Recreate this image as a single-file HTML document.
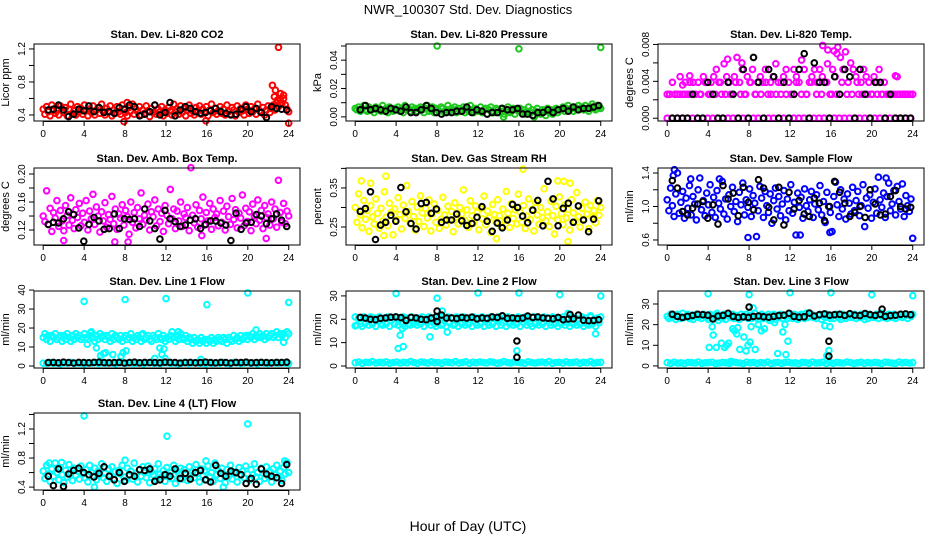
<!DOCTYPE html>
<html><head><meta charset="utf-8"><style>
html,body{margin:0;padding:0;background:#fff;}
svg{display:block;font-family:"Liberation Sans",sans-serif;}
</style></head><body>
<svg id="chart" width="936" height="540" viewBox="0 0 936 540" xmlns="http://www.w3.org/2000/svg">
<text x="468" y="14" font-size="13" text-anchor="middle">NWR_100307  Std. Dev. Diagnostics</text>
<text x="468" y="531" font-size="14" text-anchor="middle">Hour of Day (UTC)</text>
</svg>
<script>
// ---------- data ----------
const xTicks=[0,4,8,12,16,20,24];
const co2Main=[.47,.41,.50,.44,.39,.52,.45,.42,.48,.40,.51,.46,.43,.49,.39,.47,.53,.42,.45,.40,.50,.44,.48,.41,.52,.45,.39,.47,.43,.51,.40,.46,.49,.42,.53,.44,.40,.48,.45,.51,.39,.46,.42,.50,.44,.41,.52,.47,.43,.39,.49,.45,.53,.41,.47,.44,.50,.40,.46,.42,.51,.45,.38,.48,.43,.52,.41,.47,.44,.50,.39,.46,.42,.49,.45,.40,.53,.44,.47,.41,.51,.43,.48,.39,.46,.52,.42,.45,.40,.49,.44,.51,.41,.47,.43,.50,.39,.46,.53,.43,.48,.41,.45,.50,.42,.47,.40,.52,.44,.41,.49,.46,.39,.51,.43,.48,.45,.40,.52,.47,.42,.50,.44,.47,.41,.53,.45,.43,.49,.40,.46,.51,.43,.48,.52,.46,.55,.50,.58,.54,.60,.52,.47,.44];
const co2Extra=[[7.9,.32],[8.2,.55],[15.9,.33],[22.4,.76],[22.7,.70],[23.0,1.22],[23.2,.66],[23.5,.64],[24,.30],[22.6,.62],[22.9,.58]];
const co2Black=[.46,.47,.52,.46,.38,.41,.47,.45,.51,.44,.49,.43,.44,.42,.49,.47,.52,.50,.39,.41,.44,.52,.40,.43,.55,.39,.46,.50,.48,.44,.42,.43,.45,.48,.44,.42,.40,.41,.47,.50,.44,.48,.43,.37,.50,.48,.47,.46];
const co2Ticks=[.4,.6,.8,1.0,1.2]; const co2Labels=["0.4","","0.8","","1.2"];

const presMain=[6,5,7,4,6,8,5,4,7,6,5,3,7,5,6,4,8,5,6,3,7,5,4,6,5,7,4,6,3,8,5,6,4,7,5,6,4,6,7,5,3,6,8,4,5,7,3,6,5,4,7,6,3,5,8,4,6,5,7,3,6,4,5,7,3,6,4,8,5,3,6,5,4,7,3,5,6,2,5,7,4,3,6,5,3,6,4,2,5,7,3,4,6,2,5,4,6,3,5,2,4,7,3,5,1,4,6,3,2,5,4,1,6,3,5,2,4,6,3,5,5,7,4,6,8,5,6,4,7,5,8,6,7,5,8,6,4,7,9,6,5,8,7,6];
const presExtra=[[8,50],[16,48],[24,49],[14.5,0],[17.5,0]];
const presBlack=[5,8,5,6,5,4,6,5,4,7,3,3,5,8,6,3,2,3,3,4,4,7,3,5,4,2,3,3,6,5,5,6,2,2,1,3,3,5,3,5,6,4,7,5,6,6,7,8];
const presTicks=[0,10,20,30,40,50]; const presLabels=["0.00","","0.02","","0.04",""];

const tempMid=[2.6,2.6,3.9,2.6,2.6,4.5,2.6,3.9,2.6,2.6,3.9,2.6,3.9,2.6,4.5,3.9,2.6,3.9,4.5,5.3,3.9,2.6,5.9,4.5,3.9,2.6,4.5,6.6,3.9,5.3,2.6,4.5,3.9,5.3,2.6,3.9,4.5,3.9,5.3,2.6,3.9,4.5,5.9,3.9,2.6,4.5,5.3,3.9,2.6,5.3,4.5,3.9,6.3,5.3,2.6,3.9,4.5,5.3,3.9,5.3,4.5,3.9,5.9,2.6,5.3,4.5,7.7,6.6,5.3,7.2,3.9,6.0,5.3,4.5,2.6,3.9,5.3,4.5,3.9,2.6,4.5,3.9,5.3,2.6,3.9,2.6,2.6,2.6,2.6,4.5,2.6,2.6,2.6,2.6,2.6,2.6];
const tempLow=[0,2.6,0,2.6,0,2.6,0,2.6,0,3.9,0,2.6,0,2.6,0,3.9,0,2.6,0,2.6,0,3.9,0,2.6,0,2.6,0,3.9,0,2.6,0,2.6,0,3.9,0,2.6,0,2.6,0,3.9,0,2.6,0,2.6,0,3.9,0,2.6,0,2.6,0,3.9,0,2.6,0,2.6,0,3.9,0,2.6,0,2.6,0,3.9,0,2.6,0,2.6,0,3.9,0,2.6,0,2.6,0,3.9,0,2.6,0,2.6,0,2.6,0,2.6,0,2.6,0,2.6,0,2.6,0,2.6,0,2.6,0,2.6,0,2.6];
const tempExtra=[[15.2,7.9],[15.7,7.4],[16.3,7.3],[16.6,7.0],[5.9,6.4],[7.3,6.0],[2.2,4.6],[22.3,4.6],[1.5,3.6],[23.3,2.6]];
const tempBlack=[0,0,0,0,2.6,0,0,3.9,2.6,0,0,3.9,2.6,0,5.3,0,6.6,3.9,0,5.3,4.5,0,3.9,0,2.6,5.3,7.0,0,6.0,3.9,3.9,0,4.5,2.6,5.3,4.5,0,5.3,2.6,0,3.9,3.9,0,2.6,0,0,0,0];
const tempTicks=[0,2,4,6,8]; const tempLabels=["0.000","","0.004","","0.008"];

const ambMain=[.140,.132,.176,.128,.151,.118,.145,.137,.162,.125,.148,.133,.119,.155,.141,.127,.166,.134,.122,.149,.138,.158,.126,.144,.131,.162,.120,.147,.136,.171,.128,.153,.140,.117,.146,.133,.159,.124,.142,.135,.168,.129,.150,.121,.143,.137,.156,.127,.148,.139,.114,.160,.131,.145,.123,.152,.136,.173,.128,.141,.134,.157,.120,.146,.139,.163,.126,.150,.132,.144,.118,.155,.141,.129,.178,.136,.150,.122,.147,.133,.160,.125,.143,.138,.152,.119,.209,.141,.130,.156,.124,.148,.136,.167,.127,.145,.133,.158,.121,.150,.138,.143,.126,.162,.131,.147,.120,.154,.139,.128,.165,.135,.149,.123,.144,.137,.170,.126,.151,.132,.146,.119,.157,.140,.129,.163,.134,.148,.122,.155,.138,.143,.127,.160,.136,.150,.124,.191,.145,.131,.158,.129,.147,.140];
const ambExtra=[[2.0,.105],[7.0,.103],[8.3,.103],[15.5,.112],[21.8,.108]];
const ambBlack=[.128,.131,.130,.136,.146,.142,.123,.104,.128,.138,.133,.121,.122,.143,.122,.136,.135,.136,.125,.150,.133,.122,.107,.148,.136,.132,.125,.127,.134,.136,.122,.128,.133,.133,.130,.127,.105,.144,.121,.130,.131,.142,.140,.129,.136,.143,.134,.125];
const ambTicks=[.12,.14,.16,.18,.20]; const ambLabels=["0.12","","0.16","","0.20"];

const rhMain=[.300,.262,.335,.281,.248,.318,.270,.292,.239,.305,.276,.258,.322,.285,.247,.298,.266,.340,.275,.253,.311,.288,.230,.296,.268,.325,.282,.245,.306,.272,.356,.290,.259,.315,.277,.242,.301,.264,.330,.286,.251,.297,.273,.319,.240,.284,.309,.262,.293,.247,.270,.326,.281,.255,.303,.268,.290,.238,.312,.276,.258,.300,.283,.345,.266,.294,.249,.317,.279,.260,.304,.287,.243,.298,.271,.329,.256,.291,.274,.236,.308,.282,.263,.320,.279,.252,.296,.267,.341,.285,.249,.310,.272,.294,.258,.334,.288,.262,.305,.246,.278,.322,.269,.295,.240,.313,.281,.257,.300,.274,.348,.266,.289,.251,.316,.279,.232,.303,.268,.327,.284,.256,.307,.273,.295,.242,.320,.286,.264,.338,.277,.250,.298,.270,.314,.283,.246,.305,.275,.292,.261,.318,.280,.300];
const rhExtra=[[0.6,.368],[1.5,.362],[3.0,.380],[16.4,.398],[19.8,.368],[20.4,.367],[21.0,.362],[2.8,.228],[13.8,.220],[20.8,.213]];
const rhBlack=[.290,.297,.340,.218,.255,.262,.280,.265,.351,.289,.259,.245,.310,.313,.285,.296,.262,.268,.268,.283,.266,.254,.259,.275,.302,.265,.239,.260,.248,.268,.308,.300,.278,.261,.293,.318,.253,.367,.322,.253,.298,.311,.262,.304,.268,.238,.270,.317];
const rhTicks=[.25,.30,.35,.40]; const rhLabels=["0.25","","0.35",""];

const flowMain=[1.08,0.95,1.22,1.01,0.88,1.15,1.40,0.92,1.05,1.18,0.86,1.10,0.98,1.25,0.90,1.12,1.03,0.84,1.20,1.34,0.96,1.07,0.89,1.16,1.02,1.26,0.93,1.11,0.87,1.19,1.04,0.97,1.30,0.91,1.09,0.85,1.14,1.00,1.23,0.94,1.06,0.82,1.17,1.02,1.28,0.90,1.08,0.99,1.21,0.88,1.13,1.04,0.64,0.95,1.24,1.10,0.87,1.18,1.01,0.93,1.15,0.80,1.07,1.22,0.97,1.12,0.89,1.03,1.19,0.84,1.09,0.95,1.26,0.92,1.05,0.66,1.16,0.99,1.11,0.86,1.21,1.01,0.94,1.08,1.18,0.87,1.03,1.14,0.96,1.25,0.90,1.06,0.81,1.17,1.00,0.93,0.70,1.12,1.29,1.02,0.88,1.20,0.97,1.09,0.85,1.15,1.04,0.91,1.23,0.95,1.07,1.18,0.89,1.01,1.26,0.76,1.10,0.98,1.14,0.86,1.05,1.21,0.92,1.35,1.08,0.99,1.16,0.87,1.12,1.28,0.95,1.03,1.19,0.90,1.24,1.06,0.97,1.27,0.88,1.13,1.01,0.94,1.09,0.62];
const flowExtra=[[0.7,1.44],[0.6,1.37],[2.3,1.33],[5.1,1.33],[7.9,0.63],[13.0,0.66],[15.9,0.69],[21.4,1.34]];
const flowBlack=[1.31,1.22,0.94,0.90,0.98,1.03,1.06,0.86,1.02,0.79,1.25,1.09,1.16,0.89,1.23,1.05,0.96,1.32,1.22,0.99,0.84,1.23,0.78,1.17,0.97,1.07,0.91,0.88,1.10,1.04,0.83,1.00,1.30,1.17,1.04,0.88,0.93,1.00,0.87,1.20,1.03,0.90,0.91,1.12,1.19,1.00,0.97,0.99];
const flowTicks=[.6,.8,1.0,1.2,1.4]; const flowLabels=["0.6","","1.0","","1.4"];

const line1Main=[15,17,14,16,13,16,15,17,14,15,16,13,16,14,17,15,13,16,14,17,15,16,14,15,17,15,14,16,18,15,13,16,14,17,15,16,14,16,15,13,17,14,16,15,14,16,13,15,16,14,15,17,13,15,14,16,15,13,17,14,15,16,14,13,16,15,14,17,15,14,16,13,15,14,16,18,15,13,16,14,17,15,14,16,13,15,14,12,15,13,14,12,15,13,14,12,14,13,15,12,14,13,15,14,13,15,14,12,15,14,13,16,14,15,13,16,14,15,16,14,16,15,17,14,16,15,17,15,16,14,17,15,16,17,15,16,18,15,17,16,17,15,18,17];
const line1Low=[1.5,1.3,1.8,1.4,1.6,1.2,1.7,1.5,1.9,1.3,1.6,1.4,1.2,1.7,1.5,1.8,1.3,1.6,1.4,1.9,1.5,1.2,1.7,1.6,1.4,1.8,1.3,1.5,1.7,1.2,1.6,1.9,1.4,1.5,1.3,1.8,1.6,1.4,1.7,1.2,1.5,1.9,1.3,1.6,1.8,1.4,1.5,1.2,1.7,1.3,1.6,1.5,1.9,1.4,1.2,1.8,1.6,1.3,1.5,1.7,1.4,1.6,1.2,1.8,1.5,1.3,1.7,1.6,1.4,1.9,1.5,1.3];
const line1Extra=[[4,34],[8,35],[12,35.5],[16,32.3],[20,38.5],[24,33.5],[4.3,11.5],[5.2,9.5],[5.6,5.5],[5.9,6.5],[6.1,7],[6.8,6],[7.6,5],[7.8,7],[8.1,8],[10.9,4],[11.4,9.5],[11.6,6],[11.8,9],[11.9,4],[4.6,17.5],[15.4,3.5],[23.5,12.5],[20.8,19],[13.2,18],[9.6,16.5]];
const line1Black=[1.8,1.9,1.7,2.0,1.8,1.6,1.9,1.8,1.7,1.9,2.0,1.8,1.7,1.8,1.9,1.6,1.8,2.0,1.7,1.9,1.8,1.8,1.7,2.0,1.9,1.8,1.6,1.8,1.9,1.7,1.8,2.0,1.8,1.7,1.9,1.8,1.6,1.9,1.8,2.0,1.7,1.8,1.9,1.8,1.7,1.9,1.8,2.0];
const line1Ticks=[0,10,20,30,40]; const line1Labels=["0","10","20","30","40"];

const line2Main=[21,17.5,20.5,18,17,21,18.5,20,17.5,21,18,20.5,17,20,21,18,17.5,20.5,18,21,17,19.5,20.5,18,21,17.5,20,18.5,21,17,20.5,18,17.5,21,18,20,17.5,20.5,18,21,17,20,18.5,21,17.5,20.5,18,17,20.5,21,17.5,18,20,17,21,18.5,20.5,17.5,18,21,17,20.5,18,21,17.5,20,18,20.5,17,21,18.5,17.5,20.5,18,21,17,20,18.5,17.5,21,18,20.5,17,20,21,17.5,18.5,20.5,17,21,18,20,17.5,20.5,18,21,17,20,18.5,21,17.5,20.5,18,17,21,18,20.5,17.5,20,18,21,17,20.5,18.5,17.5,21,18,20,17,20.5,18,21,17.5,20,18.5,17,21,18,20.5,17.5,20,18,21,17,20.5,18,17.5,21,18,20,17,20.5,18.5,21];
const line2Low=[1.4,1.7,1.2,1.6,1.5,1.9,1.3,1.6,1.4,1.8,1.2,1.5,1.7,1.3,1.6,1.4,1.9,1.5,1.2,1.7,1.6,1.3,1.8,1.4,1.5,1.2,1.7,1.6,1.4,1.9,1.3,1.5,1.8,1.2,1.6,1.4,1.7,1.5,1.3,1.8,1.6,1.2,1.4,1.9,1.5,1.3,1.7,1.6,1.4,1.2,1.8,1.5,1.3,1.6,1.7,1.4,1.9,1.2,1.5,1.6,1.3,1.8,1.4,1.5,1.7,1.2,1.6,1.4,1.9,1.3,1.5,1.6];
const line2Extra=[[4,31],[12,31.3],[16,31.3],[20,30.5],[24,30],[8,29],[4.2,7.5],[4.7,8.3],[4.4,13.2],[4.6,16],[7.3,12.5],[9,14.5],[15.8,6.5],[23.5,13.8],[8.5,23.5],[20.8,22.5],[23,21.5],[0,17.2]];
const line2Black=[20.8,20.5,20,19.8,20.4,20.6,20.9,21,20.7,19.5,20.8,20.6,20,19.8,20.5,21.2,21.8,20.5,20.6,20.3,20.8,20.5,20.9,20.2,20.6,20.4,21,20.8,21.5,20.4,20.6,20.3,20.5,21.4,20.8,21,20.6,20.4,20.2,20.8,19.8,20.1,20.2,21.8,19.6,19.4,19.5,19.8];
const line2BlackExtra=[[8,23.5],[8,19],[15.8,10.7],[15.8,3.7],[21,22]];
const line2Ticks=[0,10,20,30]; const line2Labels=["0","10","20","30"];

const line3Main=[24,23,25,23.5,24.5,22.5,25,24,23,25.5,23.5,24,25,23,24.5,22.5,24,25,23.5,24.5,23,25,24,23.5,22.5,25,24,23,24.5,25.5,23.5,24,23,25,22.5,24.5,24,23.5,25,23,24.5,24,22.5,25,23.5,24,25,23,24.5,23,24,25.5,23.5,22.5,24.5,25,23,24,23.5,25,23,24.5,25,22.5,24,23.5,25,23,24.5,24,23,25,24,23,25,23.5,22.5,24.5,25,24,23,25.5,23.5,24,25,23.5,24,23,24.5,25,22.5,24,23.5,25,24,23,24.5,23,25,24,23.5,22.5,25,24.5,23,24,25,23.5,24,25,23,24.5,23.5,25,24,22.5,24.5,23,25,24,23.5,24,25,23,24.5,25.5,23.5,24,23,25,24,23.5,25,23,24.5,24,25,23.5,24,25,23,24.5,24,25];
const line3Low=[1.6,1.3,1.8,1.4,1.5,1.2,1.7,1.6,1.4,1.9,1.3,1.5,1.6,1.8,1.2,1.4,1.7,1.5,1.3,1.9,1.6,1.4,1.2,1.8,1.5,1.7,1.3,1.6,1.4,1.9,1.2,1.5,1.7,1.3,1.6,1.8,1.4,1.5,1.2,1.7,1.6,1.3,1.9,1.4,1.5,1.8,1.2,1.6,1.3,1.7,1.5,1.4,1.9,1.6,1.2,1.5,1.8,1.3,1.6,1.4,1.7,1.5,1.2,1.8,1.6,1.4,1.3,1.9,1.5,1.7,1.4,1.6];
const line3Extra=[[4,35],[8,34.5],[12,35.5],[16,35.5],[20,34.5],[24,34],[4.1,9],[4.4,19],[4.5,15],[4.8,9],[5,22],[5.3,11],[5.6,9],[5.8,10],[6,11],[6.4,18],[6.6,17],[6.8,15.5],[6.9,18.5],[7.1,8],[7.5,14],[7.7,7.3],[7.9,10],[8.1,11.5],[8.2,19],[8.4,28],[8.6,8],[8.9,20],[9.2,17],[9.5,18],[10,22],[10.5,21],[10.8,6],[11.3,16.5],[11.5,20],[11.6,5.5],[11.8,12],[15.4,19.5],[15.6,5],[15.8,7.5],[15.9,19],[6.2,2.2]];
const line3Black=[25,24,23.5,24,24.5,25,24.8,24.6,22.8,24.2,24.5,25.5,24,23.5,23.8,23.5,24,24.2,23.8,23.6,24,24.4,24.6,25.5,24,23.6,23.8,25.6,24.2,24.8,25.2,24.6,24.8,25,24.5,25.3,24.6,24.4,25.4,24.8,24.5,25,24,24.4,24.6,25,25.2,24.8];
const line3BlackExtra=[[8,28.5],[15.8,12],[15.8,4.7],[21,27.5]];
const line3Ticks=[0,10,20,30]; const line3Labels=["0","10","20","30"];

const line4Main=[.62,.52,.70,.58,.48,.65,.55,.73,.60,.50,.67,.57,.46,.63,.54,.71,.59,.49,.66,.56,.62,.51,.69,.58,.53,.64,.47,.70,.60,.55,.66,.50,.62,.57,.72,.53,.59,.48,.65,.56,.68,.52,.61,.45,.63,.58,.70,.54,.49,.66,.57,.62,.51,.73,.59,.47,.64,.55,.68,.60,.53,.69,.46,.61,.57,.65,.50,.72,.58,.54,.63,.48,.67,.56,.60,.52,.70,.45,.62,.58,.66,.51,.64,.57,.49,.68,.55,.61,.53,.71,.59,.47,.65,.56,.62,.50,.69,.54,.60,.48,.73,.57,.63,.52,.66,.58,.46,.64,.55,.70,.51,.61,.59,.47,.67,.56,.62,.53,.69,.58,.50,.64,.57,.72,.54,.60,.48,.66,.59,.52,.68,.55,.61,.47,.65,.57,.70,.53,.62,.49,.67,.58,.74,.60];
const line4Extra=[[4,1.38],[12.1,1.1],[20,1.27],[5,0.40],[17.6,0.40],[1.8,0.74],[8,0.77],[0.6,0.73],[15.9,0.76],[23.6,0.76]];
const line4Black=[.55,.42,.65,.41,.58,.63,.66,.60,.57,.54,.59,.68,.55,.50,.60,.48,.57,.55,.64,.63,.65,.48,.50,.57,.55,.65,.52,.59,.51,.60,.63,.50,.47,.70,.59,.55,.62,.60,.57,.45,.52,.44,.65,.58,.55,.53,.45,.71];
const line4Ticks=[.4,.6,.8,1.0,1.2,1.4]; const line4Labels=["0.4","","0.8","","1.2",""];

// ---------- layout ----------
const NS="http://www.w3.org/2000/svg";
const svg=document.getElementById('chart');
const colLeft=[34,346,658], boxW=266, rowTop=[44,168,291,413], boxH=77;
const xDom=[-0.9,25.1];
function mk(tag,attrs,parent){const e=document.createElementNS(NS,tag);for(const k in attrs)e.setAttribute(k,attrs[k]);(parent||svg).appendChild(e);return e;}

const panels=[
 {id:'co2',title:'Stan. Dev. Li-820 CO2',ylab:'Licor ppm',c:0,r:0,dom:[0.327,1.26],col:'#ff0000',main:[co2Main],extra:co2Extra,black:co2Black,bx:[],ticks:co2Ticks,labels:co2Labels},
 {id:'pressure',title:'Stan. Dev. Li-820 Pressure',ylab:'kPa',c:1,r:0,dom:[-2.9,51.4],col:'#1fc81f',main:[presMain],extra:presExtra,black:presBlack,bx:[],ticks:presTicks,labels:presLabels},
 {id:'temp',title:'Stan. Dev. Li-820 Temp.',ylab:'degrees C',c:2,r:0,dom:[-0.3,8.05],col:'#ff00ff',main:[tempLow,tempMid],extra:tempExtra,black:tempBlack,bx:[],ticks:tempTicks,labels:tempLabels},
 {id:'amb',title:'Stan. Dev. Amb. Box Temp.',ylab:'degrees C',c:0,r:1,dom:[0.0986,0.2086],col:'#ff00ff',main:[ambMain],extra:ambExtra,black:ambBlack,bx:[],ticks:ambTicks,labels:ambLabels},
 {id:'rh',title:'Stan. Dev. Gas Stream RH',ylab:'percent',c:1,r:1,dom:[0.204,0.401],col:'#ffff00',main:[rhMain],extra:rhExtra,black:rhBlack,bx:[],ticks:rhTicks,labels:rhLabels},
 {id:'sample-flow',title:'Stan. Dev. Sample Flow',ylab:'ml/min',c:2,r:1,dom:[0.54,1.46],col:'#0000ff',main:[flowMain],extra:flowExtra,black:flowBlack,bx:[],ticks:flowTicks,labels:flowLabels},
 {id:'line1',title:'Stan. Dev. Line 1 Flow',ylab:'ml/min',c:0,r:2,dom:[-1.05,39.5],col:'#00ffff',main:[line1Low,line1Main],extra:line1Extra,black:line1Black,bx:[],ticks:line1Ticks,labels:line1Labels},
 {id:'line2',title:'Stan. Dev. Line 2 Flow',ylab:'ml/min',c:1,r:2,dom:[-0.86,32.1],col:'#00ffff',main:[line2Low,line2Main],extra:line2Extra,black:line2Black,bx:line2BlackExtra,ticks:line2Ticks,labels:line2Labels},
 {id:'line3',title:'Stan. Dev. Line 3 Flow',ylab:'ml/min',c:2,r:2,dom:[-1,36.3],col:'#00ffff',main:[line3Low,line3Main],extra:line3Extra,black:line3Black,bx:line3BlackExtra,ticks:line3Ticks,labels:line3Labels},
 {id:'line4',title:'Stan. Dev. Line 4 (LT) Flow',ylab:'ml/min',c:0,r:3,dom:[0.36,1.42],col:'#00ffff',main:[line4Main],extra:line4Extra,black:line4Black,bx:[],ticks:line4Ticks,labels:line4Labels}
];

panels.forEach(p=>{
 const L=colLeft[p.c], T=rowTop[p.r], B=T+boxH, R=L+boxW;
 const xs=h=>L+(h-xDom[0])/(xDom[1]-xDom[0])*boxW;
 const ys=v=>B-(v-p.dom[0])/(p.dom[1]-p.dom[0])*boxH;
 const g=mk('g',{});
 
 
 const t=mk('text',{x:L+boxW/2,y:T-6,'font-size':11,'font-weight':'bold','text-anchor':'middle'},g);
 t.textContent=p.title;
 
 
 const yl=mk('text',{x:0,y:0,'font-size':11,'text-anchor':'middle',transform:`translate(${L-25},${T+boxH/2}) rotate(-90)`},g);
 yl.textContent=p.ylab;
 
 
 const pts=mk('g',{fill:'none','stroke-width':2},g);
 
 
 const dot=(h,v,c)=>{const e=mk('circle',{cx:xs(h).toFixed(1),cy:ys(v).toFixed(1),r:2.8,stroke:c},pts);
  
  };
 p.main.forEach(arr=>{arr.forEach((v,i)=>dot(i*24/(arr.length-1),v,p.col));});
 p.extra.forEach(d=>dot(d[0],d[1],p.col));
 p.black.forEach((v,i)=>dot(0.5+i*(23.8-0.5)/(p.black.length-1),v,'#000'));
 p.bx.forEach(d=>dot(d[0],d[1],'#000'));
 const box=mk('rect',{x:L,y:T,width:boxW,height:boxH,fill:'none',stroke:'#000','stroke-width':1},g);
 
 
 const ax=mk('g',{stroke:'#000','stroke-width':1},g);
 
 
 mk('line',{x1:xs(0),x2:xs(24),y1:B+0.5,y2:B+0.5},ax);
 xTicks.forEach(h=>{mk('line',{x1:xs(h),x2:xs(h),y1:B,y2:B+5},ax);
  const tl=mk('text',{x:xs(h),y:B+16,'font-size':10,'text-anchor':'middle',stroke:'none'},g);
  tl.textContent=String(h);
  
  });
 p.ticks.forEach((v,i)=>{const y=ys(v);mk('line',{x1:L-5,x2:L,y1:y,y2:y},ax);
  if(p.labels[i]){const tl=mk('text',{x:0,y:0,'font-size':10,'text-anchor':'middle',transform:`translate(${L-9},${y}) rotate(-90)`},g);
   tl.textContent=p.labels[i];
   
   }});
});
</script>
</body></html>
